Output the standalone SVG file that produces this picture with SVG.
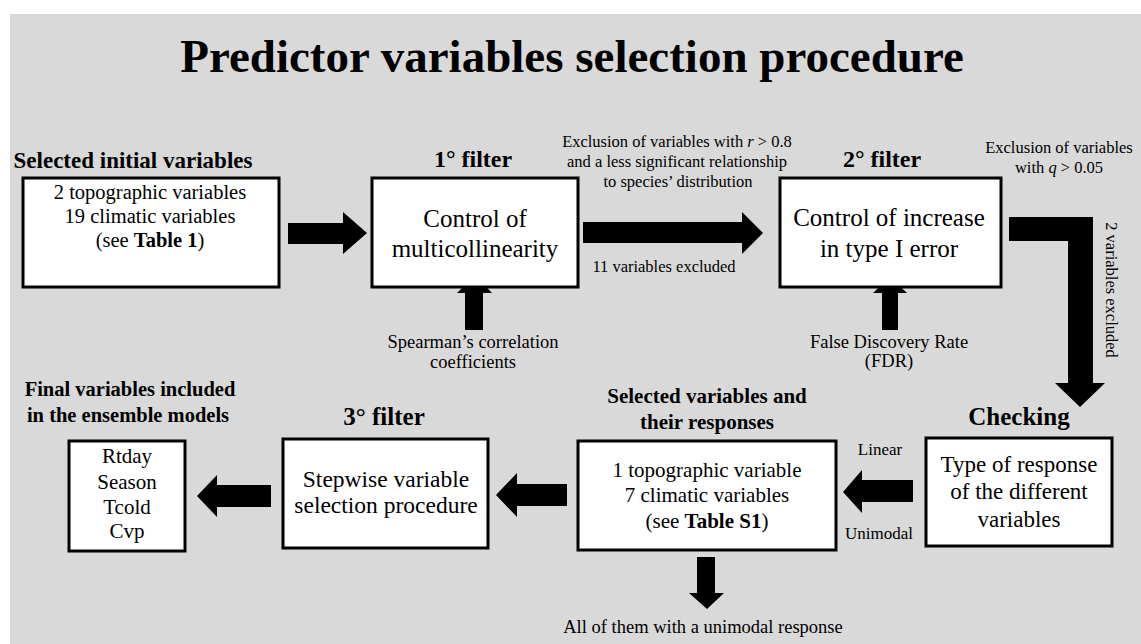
<svg xmlns="http://www.w3.org/2000/svg" width="1141" height="644" viewBox="0 0 1141 644">
<style>
.box{fill:#ffffff;stroke:#000000;stroke-width:3}
.t{font-family:"Liberation Serif","Times New Roman",serif;fill:#000000;text-anchor:middle}
.b{font-weight:bold}
.arr{fill:#000000}
</style>
<rect x="0" y="0" width="1141" height="644" fill="#ffffff"/>
<rect x="10" y="14" width="1131" height="630" fill="#d9d9d9"/>
<text class="t b" x="572" y="72" font-size="47">Predictor variables selection procedure</text>

<g id="connectors">
<polygon class="arr" points="288,223 343,223 343,212 367,233 343,254 343,244 288,244"/>
<polygon class="arr" points="583,222 742,222 742,212 763,233 742,254 742,243 583,243"/>
<polygon class="arr" points="465,330 465,293 457,293 475,275 492,293 483,293 483,330"/>
<polygon class="arr" points="882,330 882,293 873,293 890,277 907,293 898,293 898,330"/>
<polygon class="arr" points="1009,217 1093,217 1093,383 1105,383 1080,407 1055,383 1068,383 1068,241 1009,241"/>
<polygon class="arr" points="913,480 862,480 862,470 843,492 862,513 862,502 913,502"/>
<polygon class="arr" points="567,484 517,484 517,473 496,495 517,517 517,506 567,506"/>
<polygon class="arr" points="271,485 217,485 217,475 197,496 217,517 217,507 271,507"/>
<polygon class="arr" points="697,557 715,557 715,593 724,593 707,609 689,593 697,593"/>
<text class="t" font-size="16.5" x="677" y="147">Exclusion of variables  with <tspan font-style="italic">r</tspan> &gt; 0.8</text>
<text class="t" font-size="16.5" x="677" y="167">and a less significant  relationship</text>
<text class="t" font-size="16.5" x="678" y="187">to species’ distribution</text>
<text class="t" font-size="16.5" x="664" y="272">11 variables  excluded</text>
<text class="t" font-size="16.5" x="1059" y="153">Exclusion  of variables</text>
<text class="t" font-size="16.5" x="1059" y="173">with  <tspan font-style="italic">q</tspan> &gt; 0.05</text>
<text class="t" font-size="16.5" transform="translate(1106,290) rotate(90)" x="0" y="0">2 variables  excluded</text>
<text class="t" font-size="18.5" x="473" y="348">Spearman’s  correlation</text>
<text class="t" font-size="18.5" x="473" y="368">coefficients</text>
<text class="t" font-size="18.5" x="889" y="348">False Discovery  Rate</text>
<text class="t" font-size="18.5" x="889" y="367">(FDR)</text>
<text class="t" font-size="17" x="880" y="455">Linear</text>
<text class="t" font-size="17" x="879" y="539">Unimodal</text>
<text class="t" font-size="18.5" x="703" y="633">All of them with a unimodal response</text>
</g>

<g id="initial">
<text class="t b" font-size="23" x="133" y="168">Selected initial variables</text>
<rect class="box" x="23" y="178" width="256" height="109"/>
<text class="t" font-size="20.5" x="150" y="199">2 topographic variables</text>
<text class="t" font-size="20.5" x="150" y="223">19 climatic variables</text>
<text class="t" font-size="20.5" x="150" y="247">(see <tspan font-weight="bold">Table 1</tspan>)</text>
</g>

<g id="filter1">
<text class="t b" font-size="24" x="473" y="167">1° filter</text>
<rect class="box" x="372" y="178" width="206" height="109"/>
<text class="t" font-size="25" x="475" y="227">Control  of</text>
<text class="t" font-size="25" x="475" y="257">multicollinearity</text>
</g>

<g id="filter2">
<text class="t b" font-size="24" x="882" y="167">2° filter</text>
<rect class="box" x="780" y="178" width="221" height="109"/>
<text class="t" font-size="25" x="889" y="226">Control  of increase</text>
<text class="t" font-size="25" x="889" y="257">in type I error</text>
</g>

<g id="checking">
<text class="t b" font-size="25" x="1019" y="425">Checking</text>
<rect class="box" x="926" y="438" width="186" height="108"/>
<text class="t" font-size="23" x="1019" y="472">Type of response</text>
<text class="t" font-size="23" x="1019" y="499">of the different</text>
<text class="t" font-size="23" x="1019" y="527">variables</text>
</g>

<g id="selected">
<text class="t b" font-size="21" x="707" y="403">Selected variables and</text>
<text class="t b" font-size="21" x="707" y="429">their responses</text>
<rect class="box" x="578" y="441" width="258" height="109"/>
<text class="t" font-size="21" x="707" y="477">1 topographic variable</text>
<text class="t" font-size="21" x="707" y="502">7 climatic variables</text>
<text class="t" font-size="21" x="707" y="528">(see <tspan font-weight="bold">Table S1</tspan>)</text>
</g>

<g id="filter3">
<text class="t b" font-size="25" x="384" y="425">3° filter</text>
<rect class="box" x="283" y="439" width="205" height="109"/>
<text class="t" font-size="23.5" x="386" y="487">Stepwise variable</text>
<text class="t" font-size="23.5" x="386" y="513">selection procedure</text>
</g>

<g id="final">
<text class="t b" font-size="20.5" x="130" y="396">Final variables included</text>
<text class="t b" font-size="20.5" x="128" y="422">in the ensemble models</text>
<rect class="box" x="69" y="441" width="116" height="110"/>
<text class="t" font-size="21" x="127" y="463">Rtday</text>
<text class="t" font-size="21" x="127" y="489">Season</text>
<text class="t" font-size="21" x="127" y="514">Tcold</text>
<text class="t" font-size="21" x="127" y="538">Cvp</text>
</g>
</svg>
